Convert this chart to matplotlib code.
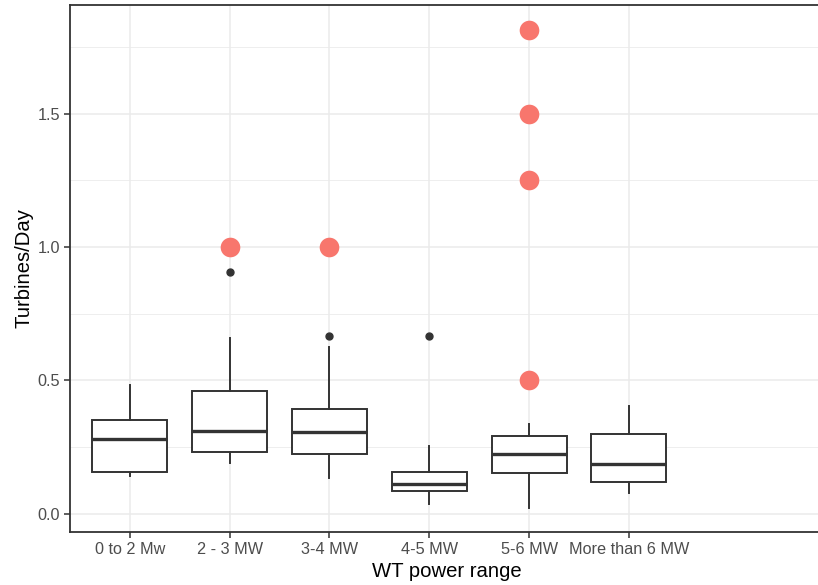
import matplotlib
matplotlib.use("Agg")
import matplotlib.pyplot as plt
from matplotlib.ticker import MultipleLocator

plt.rcParams['font.family'] = ['Liberation Sans', 'DejaVu Sans']

# turbines installed per day, grouped by rated power
categories = ["0 to 2 Mw", "2 - 3 MW", "3-4 MW", "4-5 MW", "5-6 MW", "More than 6 MW"]
whisker_low = [0.140, 0.188, 0.132, 0.035, 0.022, 0.077]
q1 = [0.156, 0.230, 0.225, 0.084, 0.151, 0.120]
median = [0.280, 0.310, 0.306, 0.112, 0.224, 0.186]
q3 = [0.350, 0.460, 0.393, 0.155, 0.290, 0.298]
whisker_high = [0.481, 0.660, 0.623, 0.252, 0.335, 0.402]
outliers = [[], [0.905], [0.667], [0.667], [], []]

# highlighted observations (category index, value)
highlight_cat = [2, 3, 5, 5, 5, 5]
highlight_val = [1.0, 1.0, 0.5, 1.25, 1.5, 1.815]

fig = plt.figure(figsize=(8.18, 5.85), dpi=100)
ax = fig.add_axes([70 / 818, 1 - 532 / 585, 754 / 818, 527 / 585])

stats = []
for i, name in enumerate(categories):
    stats.append(dict(label=name, whislo=whisker_low[i], q1=q1[i], med=median[i],
                      q3=q3[i], whishi=whisker_high[i], fliers=outliers[i]))

positions = list(range(1, len(categories) + 1))
edge = "#333333"
ax.bxp(stats, positions=positions, widths=0.75, showcaps=False, patch_artist=True,
       boxprops=dict(facecolor="white", edgecolor=edge, linewidth=1.4),
       whiskerprops=dict(color=edge, linewidth=1.4),
       medianprops=dict(color=edge, linewidth=2.4),
       flierprops=dict(marker="o", markerfacecolor=edge, markeredgecolor=edge,
                       markersize=5),
       zorder=3)

ax.scatter(highlight_cat, highlight_val, s=200, color="#F8766D", linewidths=0, zorder=4)

ax.set_xlim(0.4, 7.955)
ax.set_ylim(-0.069, 1.907)
ax.yaxis.set_major_locator(MultipleLocator(0.5))
ax.yaxis.set_minor_locator(MultipleLocator(0.25))
ax.set_xticks(positions)
ax.set_xticklabels(categories)

ax.grid(which="major", color="#EBEBEB", linewidth=1.1, zorder=0)
ax.grid(which="minor", axis="y", color="#EBEBEB", linewidth=0.6, zorder=0)
ax.set_axisbelow(True)

for side in ax.spines.values():
    side.set_color(edge)
    side.set_linewidth(1.3)

ax.tick_params(which="major", length=4, width=1.1, color=edge,
               labelsize=11.7, labelcolor="#4D4D4D", pad=3)
ax.tick_params(which="minor", length=0)

ax.set_xlabel("WT power range", fontsize=14.6, color="black", labelpad=4)
ax.set_ylabel("Turbines/Day", fontsize=14.6, color="black", labelpad=3)

fig.savefig("out.png", dpi=100)
